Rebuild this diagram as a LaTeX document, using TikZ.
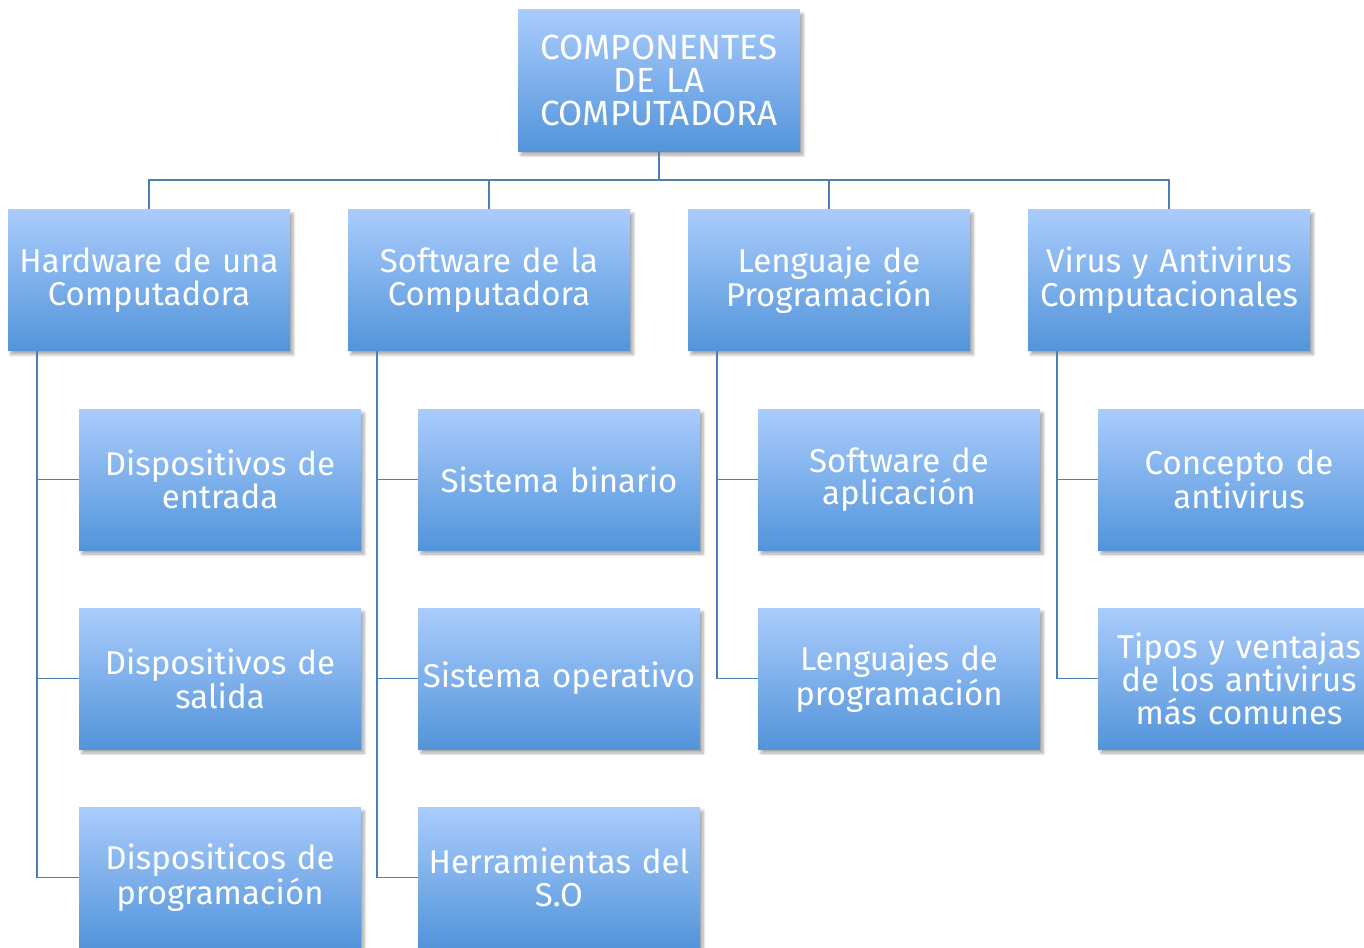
\documentclass[tikz,border=0pt]{standalone}
\usepackage{fontspec}
\setmainfont{Fira Sans}
\usetikzlibrary{shadows.blur}
\definecolor{boxtop}{HTML}{AACCFC}
\definecolor{boxbot}{HTML}{5294DA}
\definecolor{linec}{HTML}{4D7DB5}
\tikzset{
  cbox/.style={rectangle, minimum width=282pt, minimum height=141pt, top color=boxtop, bottom color=boxbot,
    text=white, align=center, text width=282pt, inner sep=0pt,
    font=\fontsize{33}{32.5}\selectfont,
    blur shadow={shadow xshift=3pt, shadow yshift=-4pt, shadow blur steps=6, shadow blur radius=3pt, shadow opacity=35}},
  conn/.style={draw=linec, line width=1.6pt}
}
\begin{document}
\begin{tikzpicture}[x=1pt,y=-1pt]
\useasboundingbox (0,0) rectangle (1364,947);
\node[cbox, font=\fontsize{35}{33}\selectfont] (root) at (659,80.5) {COMPONENTES\\DE LA\\COMPUTADORA};
\node[cbox] (hw) at (149,280) {Hardware de una\\Computadora};
\node[cbox] (sw) at (489,280) {Software de la\\Computadora};
\node[cbox] (lp) at (829,280) {Lenguaje de\\Programación};
\node[cbox] (va) at (1169,280) {Virus y Antivirus\\Computacionales};
\node[cbox] (hw1) at (220,479.5) {Dispositivos de\\entrada};
\node[cbox] (hw2) at (220,678.5) {Dispositivos de\\salida};
\node[cbox] (hw3) at (220,877.5) {Dispositicos de\\programación};
\node[cbox] (sw1) at (559,479.5) {Sistema binario};
\node[cbox] (sw2) at (559,678.5) {Sistema operativo};
\node[cbox] (sw3) at (559,877.5) {Herramientas del\\S.O};
\node[cbox] (lp1) at (899,479.5) {Software de\\aplicación};
\node[cbox] (lp2) at (899,678.5) {Lenguajes de\\programación};
\node[cbox] (va1) at (1239,479.5) {Concepto de\\antivirus};
\node[cbox] (va2) at (1239,678.5) {Tipos y ventajas\\de los antivirus\\más comunes};
\draw[conn] (root.south) -- ++(0,29) coordinate (bus);
\draw[conn] (hw.north) |- (bus) -| (va.north);
\draw[conn] (sw.north) |- (bus) -| (lp.north);
\draw[conn] ([xshift=29pt]hw.south west) |- (hw1.west);
\draw[conn] ([xshift=29pt]hw.south west) |- (hw2.west);
\draw[conn] ([xshift=29pt]hw.south west) |- (hw3.west);
\draw[conn] ([xshift=29pt]sw.south west) |- (sw1.west);
\draw[conn] ([xshift=29pt]sw.south west) |- (sw2.west);
\draw[conn] ([xshift=29pt]sw.south west) |- (sw3.west);
\draw[conn] ([xshift=29pt]lp.south west) |- (lp1.west);
\draw[conn] ([xshift=29pt]lp.south west) |- (lp2.west);
\draw[conn] ([xshift=29pt]va.south west) |- (va1.west);
\draw[conn] ([xshift=29pt]va.south west) |- (va2.west);
\end{tikzpicture}
\end{document}
